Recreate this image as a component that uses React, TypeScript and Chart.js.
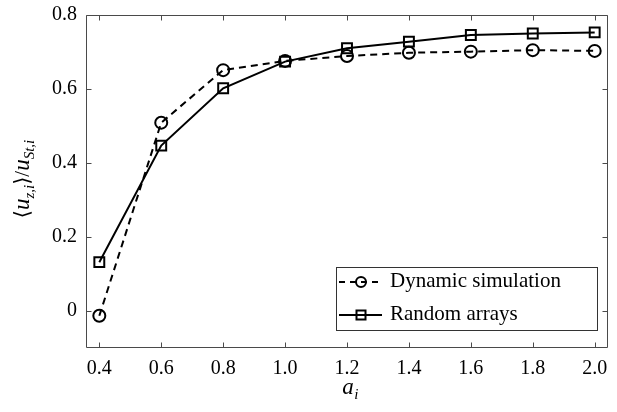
import React, { useEffect, useRef } from 'react';
import { Chart, registerables } from 'chart.js';

Chart.register(...registerables);

// ---- data ----
const aValues = [0.4, 0.6, 0.8, 1.0, 1.2, 1.4, 1.6, 1.8, 2.0];
const dynamicSimulation = [-0.013, 0.509, 0.651, 0.676, 0.689, 0.698, 0.701, 0.705, 0.703];
const randomArrays = [0.132, 0.447, 0.602, 0.674, 0.71, 0.728, 0.746, 0.75, 0.753];
const seriesNames = ['Dynamic simulation', 'Random arrays'];
const xTitleMain = 'a';
const xTitleSub = 'i';

const SERIF = '"Liberation Serif", "DejaVu Serif", "Times New Roman", serif';
const AXIS = '#4a4a4a';
const DASH = [7, 5];

const framePlugin = {
  id: 'framePlugin',
  afterDraw(chart: any) {
    const { ctx, chartArea } = chart;
    const { left, right, top, bottom } = chartArea;
    const xs = chart.scales.x;
    const ys = chart.scales.y;
    ctx.save();
    // frame
    ctx.strokeStyle = AXIS;
    ctx.lineWidth = 1;
    const L = Math.round(left) + 0.5;
    const R = Math.round(right) - 0.5;
    const T = Math.round(top) + 0.5;
    const B = Math.round(bottom) - 0.5;
    ctx.beginPath();
    ctx.rect(L, T, R - L, B - T);
    ctx.stroke();
    // inward ticks
    const tl = 5;
    ctx.beginPath();
    xs.ticks.forEach((t: any) => {
      const px = Math.round(xs.getPixelForValue(t.value)) + 0.5;
      ctx.moveTo(px, B);
      ctx.lineTo(px, B - tl);
      ctx.moveTo(px, T);
      ctx.lineTo(px, T + tl);
    });
    ys.ticks.forEach((t: any) => {
      const py = Math.round(ys.getPixelForValue(t.value)) + 0.5;
      ctx.moveTo(L, py);
      ctx.lineTo(L + tl, py);
      ctx.moveTo(R, py);
      ctx.lineTo(R - tl, py);
    });
    ctx.stroke();

    // x title: a_i
    ctx.fillStyle = '#000';
    ctx.textBaseline = 'alphabetic';
    ctx.textAlign = 'left';
    ctx.font = `italic 23px ${SERIF}`;
    const wa = ctx.measureText(xTitleMain).width;
    ctx.font = `italic 15px ${SERIF}`;
    const wi = ctx.measureText(xTitleSub).width;
    const cx = 350;
    let sx = cx - (wa + wi) / 2;
    ctx.font = `italic 23px ${SERIF}`;
    ctx.fillText(xTitleMain, sx, 394);
    ctx.font = `italic 15px ${SERIF}`;
    ctx.fillText(xTitleSub, sx + wa + 0.5, 399);

    // y title: <u_{z,i}>/u_{St,i}
    const parts: [string, string, number][] = [
      ['\u27E8', `21px ${SERIF}`, 0],
      ['u', `italic 23px ${SERIF}`, 0],
      ['z,i', `italic 15px ${SERIF}`, 5],
      ['\u27E9', `21px ${SERIF}`, 0],
      ['/', `21px ${SERIF}`, 0],
      ['u', `italic 23px ${SERIF}`, 0],
      ['St,i', `italic 15px ${SERIF}`, 5],
    ];
    let total = 0;
    const widths = parts.map(([s, f]) => {
      ctx.font = f;
      const w = ctx.measureText(s).width;
      total += w;
      return w;
    });
    ctx.save();
    ctx.translate(29, 179);
    ctx.rotate(-Math.PI / 2);
    let px = -total / 2;
    parts.forEach(([s, f, dy], i) => {
      ctx.font = f;
      ctx.fillText(s, px, dy);
      px += widths[i];
    });
    ctx.restore();

    // legend
    const bx = 336.5, by = 267.5, bw = 261, bh = 63;
    ctx.fillStyle = '#fff';
    ctx.fillRect(bx, by, bw, bh);
    ctx.strokeStyle = '#333';
    ctx.lineWidth = 1;
    ctx.strokeRect(bx, by, bw, bh);
    const rows = [282, 315];
    const lx0 = 339, lx1 = 382, mx = 361;
    ctx.strokeStyle = '#000';
    ctx.lineWidth = 2;
    // row 1 dashed with circle
    ctx.setLineDash([6, 5]);
    ctx.beginPath();
    ctx.moveTo(lx0, rows[0]);
    ctx.lineTo(lx1, rows[0]);
    ctx.stroke();
    ctx.setLineDash([]);
    ctx.beginPath();
    ctx.arc(mx, rows[0], 5, 0, Math.PI * 2);
    ctx.stroke();
    // row 2 solid with square
    ctx.beginPath();
    ctx.moveTo(lx0, rows[1]);
    ctx.lineTo(lx1, rows[1]);
    ctx.stroke();
    ctx.strokeRect(mx - 4.5, rows[1] - 4.5, 9, 9);
    ctx.fillStyle = '#000';
    ctx.font = `21px ${SERIF}`;
    ctx.textBaseline = 'middle';
    ctx.fillText(seriesNames[0], 390, rows[0] - 1);
    ctx.fillText(seriesNames[1], 390, rows[1] - 1);
    ctx.restore();
  },
};

export default function App() {
  const ref = useRef<HTMLCanvasElement | null>(null);
  useEffect(() => {
    document.body.style.margin = '0';
    const canvas = ref.current;
    if (!canvas) return;
    const chart = new Chart(canvas, {
      type: 'line',
      data: {
        datasets: [
          {
            label: seriesNames[0],
            data: aValues.map((a, i) => ({ x: a, y: dynamicSimulation[i] })),
            borderColor: '#000',
            borderWidth: 2,
            borderDash: DASH,
            pointStyle: 'circle',
            pointRadius: 6,
            pointBorderWidth: 2,
            pointBorderColor: '#000',
            pointBackgroundColor: 'rgba(0,0,0,0)',
            tension: 0,
            fill: false,
          },
          {
            label: seriesNames[1],
            data: aValues.map((a, i) => ({ x: a, y: randomArrays[i] })),
            borderColor: '#000',
            borderWidth: 2,
            pointStyle: 'rect',
            pointRadius: 7,
            pointBorderWidth: 2,
            pointBorderColor: '#000',
            pointBackgroundColor: 'rgba(0,0,0,0)',
            tension: 0,
            fill: false,
          },
        ],
      },
      options: {
        responsive: false,
        animation: false,
        layout: { padding: { top: 15, right: 1, left: 0, bottom: 0 } },
        plugins: {
          legend: { display: false },
          tooltip: { enabled: false },
        },
        scales: {
          x: {
            type: 'linear',
            min: 0.357,
            max: 2.043,
            grid: { display: false, drawTicks: false, tickLength: 0 },
            border: { display: false },
            ticks: {
              stepSize: 0.2,
              includeBounds: false,
              padding: 9,
              color: '#000',
              font: { family: SERIF, size: 20 },
              maxRotation: 0,
              autoSkip: false,
              callback: (v: any) => Number(v).toFixed(1),
            },
            afterFit: (s: any) => {
              s.height = 64;
              s.paddingLeft = 0;
              s.paddingRight = 0;
            },
          },
          y: {
            type: 'linear',
            min: -0.1,
            max: 0.8,
            grid: { display: false, drawTicks: false, tickLength: 0 },
            border: { display: false },
            ticks: {
              stepSize: 0.2,
              includeBounds: false,
              padding: 9,
              color: '#000',
              font: { family: SERIF, size: 20 },
              autoSkip: false,
              callback: (v: any) => (Math.abs(Number(v)) < 1e-9 ? '0' : Number(v).toFixed(1)),
            },
            afterFit: (s: any) => {
              s.width = 86;
              s.paddingTop = 0;
              s.paddingBottom = 0;
            },
          },
        },
      },
      plugins: [framePlugin],
    });
    return () => chart.destroy();
  }, []);
  return (
    <div style={{ position: 'fixed', left: 0, top: 0, width: 617, height: 412, background: '#fff' }}>
      <canvas ref={ref} width={617} height={412} />
    </div>
  );
}
